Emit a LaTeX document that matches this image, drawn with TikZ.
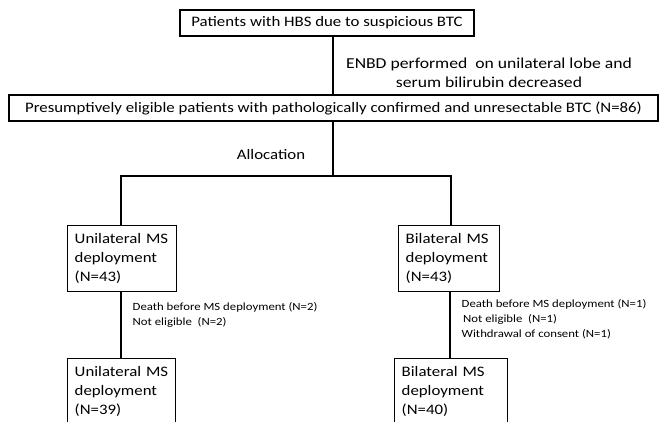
\documentclass[tikz,border=0pt]{standalone}
\usepackage{fontspec}
\setmainfont{Carlito}[FakeStretch=1.16]
\usetikzlibrary{positioning}

\begin{document}
\begin{tikzpicture}[x=1pt, y=-1pt, line width=1.4pt,
    box/.style={draw, inner sep=0pt, minimum height=26pt, font=\fontsize{14.5}{18.5}\selectfont},
    armbox/.style={draw, anchor=north west, align=left, inner xsep=7pt, inner ysep=7pt, minimum height=66pt, font=\fontsize{14.5}{19}\selectfont},
    note/.style={anchor=north west, align=left, inner sep=0pt, font=\fontsize{11}{14.8}\selectfont}]
  \useasboundingbox (0,0) rectangle (660,422);
  \clip (0,0) rectangle (660,422);

  \node[box, minimum width=294pt]  (hbs)  at (327,23)    {Patients with HBS due to suspicious BTC};
  \node[box, minimum width=649pt]  (elig) at (333.5,108) {Presumptively eligible patients with pathologically confirmed and unresectable BTC (N=86)};
  \node[armbox, text width=95pt]   (uni)  at (67,225)    {Unilateral MS\\deployment\\(N=43)};
  \node[armbox, text width=87pt]   (bi)   at (398,225)   {Bilateral MS\\deployment\\(N=43)};
  \node[armbox, text width=94pt]   (uni2) at (67,358)    {Unilateral MS\\deployment\\(N=39)};
  \node[armbox, text width=99pt]   (bi2)  at (394,358)   {Bilateral MS\\deployment\\(N=40)};

  \coordinate (trunk) at (333,176);
  \coordinate (splitL) at (121,176);
  \coordinate (splitR) at (451,176);

  \draw (hbs.south -| trunk) -- (elig.north -| trunk);
  \draw (elig.south -| trunk) -- (trunk);
  \draw (uni.north -| splitL) -- (splitL) -- (splitR) -- (bi.north -| splitR);
  \draw (uni.south -| splitL) -- (uni2.north -| splitL);
  \draw (bi.south -| 450,0) -- (bi2.north -| 450,0);

  \node[align=center, font=\fontsize{15.2}{19.5}\selectfont] (enbd) at (489,73)
    {ENBD performed\ \ on unilateral lobe and\\serum bilirubin decreased};
  \node[font=\fontsize{14.5}{18.5}\selectfont] (alloc) at (271,155) {Allocation};
  \node[note] (dropL) at (132,302) {Death before MS deployment (N=2)\\Not eligible\ \ (N=2)};
  \node[note] (dropR) at (461,299) {Death before MS deployment (N=1)\\\hspace{1.5pt}Not eligible\ \ (N=1)\\Withdrawal of consent (N=1)};
\end{tikzpicture}
\end{document}
